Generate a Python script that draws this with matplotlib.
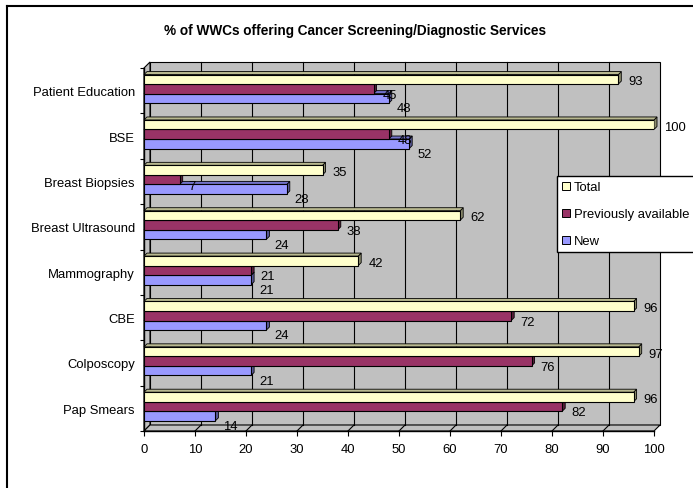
import matplotlib
matplotlib.use('Agg')
import matplotlib.pyplot as plt
import numpy as np
from matplotlib.patches import Polygon
from matplotlib.lines import Line2D
from matplotlib.transforms import IdentityTransform

# ---------------- data ----------------
categories = ["Pap Smears", "Colposcopy", "CBE", "Mammography",
              "Breast Ultrasound", "Breast Biopsies", "BSE", "Patient Education"]
total = [96, 97, 96, 42, 62, 35, 100, 93]
previously_available = [82, 76, 72, 21, 38, 7, 48, 45]
new = [14, 21, 24, 21, 24, 28, 52, 48]
series_names = ["Total", "Previously available", "New"]
x_ticks = [0, 10, 20, 30, 40, 50, 60, 70, 80, 90, 100]
title = "% of WWCs offering Cancer Screening/Diagnostic Services"

# ---------------- style ----------------
plt.rcParams['font.family'] = ['Liberation Sans Narrow', 'Liberation Sans', 'DejaVu Sans']
face_colors = ["#FFFFCC", "#993366", "#9999FF"]
side_colors = ["#8C8C6E", "#5A1E3C", "#5A5A99"]
top_colors = ["#B8B88F", "#72284E", "#7272C8"]
wall_color = "#C0C0C0"
FS = 9.4

W, H = 693, 489
fig = plt.figure(figsize=(W / 100, H / 100), dpi=100)
fig.patch.set_facecolor('white')

ax = fig.add_axes([144 / W, 1 - 432 / H, 510 / W, 363 / H])
ax.set_xlim(0, 100)
ax.set_ylim(-0.5, len(categories) - 0.5)
ax.patch.set_visible(False)
for s in ['top', 'right']:
    ax.spines[s].set_visible(False)
for s in ['left', 'bottom']:
    ax.spines[s].set_color('black')
    ax.spines[s].set_linewidth(1.0)

T = ax.transData
ID = IdentityTransform()
D = 6  # wall depth in pixels
x0, y0 = T.transform((0, -0.5))
x1, y1 = T.transform((100, len(categories) - 0.5))

def poly(pts, fc, ec='black', lw=0.8, z=1):
    p = Polygon(pts, closed=True, facecolor=fc, edgecolor=ec, linewidth=lw,
                transform=ID, zorder=z, clip_on=False, joinstyle='miter')
    ax.add_patch(p)

def line(xs, ys, z=1, lw=0.8):
    ax.add_line(Line2D(xs, ys, color='black', linewidth=lw, transform=ID,
                       zorder=z, clip_on=False))

# back wall
poly([(x0 + D, y0 + D), (x1 + D, y0 + D), (x1 + D, y1 + D), (x0 + D, y1 + D)], wall_color, z=0.5)
# left wall
poly([(x0, y0), (x0 + D, y0 + D), (x0 + D, y1 + D), (x0, y1)], wall_color, z=0.55)
# floor
poly([(x0, y0), (x1, y0), (x1 + D, y0 + D), (x0 + D, y0 + D)], wall_color, z=0.55)
# gridlines on wall and floor
for t in x_ticks[1:-1]:
    xt, _ = T.transform((t, 0))
    line([xt + D, xt + D], [y0 + D, y1 + D], z=0.6)
    line([xt, xt + D], [y0, y0 + D], z=0.6)

# ---------------- bars ----------------
bar_h = 0.21
offsets = [bar_h, 0.0, -bar_h]
shift = 0.04
values = [total, previously_available, new]
label_dx = [10, 9, 8]
label_dy = [2, 6, 10]
dd = 3
ypos = np.arange(len(categories))
for si in [2, 1, 0]:
    z = 3 + (2 - si)
    bars = ax.barh(ypos + shift + offsets[si], values[si], height=bar_h,
                   color=face_colors[si], edgecolor='black', linewidth=0.8,
                   zorder=z)
    for rect, v in zip(bars, values[si]):
        (bx0, by0) = T.transform((rect.get_x(), rect.get_y()))
        (bx1, by1) = T.transform((rect.get_x() + rect.get_width(),
                                  rect.get_y() + rect.get_height()))
        poly([(bx1, by0), (bx1 + dd, by0 + dd), (bx1 + dd, by1 + dd), (bx1, by1)],
             side_colors[si], lw=0.6, z=z - 0.1)
        poly([(bx0, by1), (bx1, by1), (bx1 + dd, by1 + dd), (bx0 + dd, by1 + dd)],
             top_colors[si], lw=0.6, z=z - 0.1)
        ax.annotate(str(v), xy=(rect.get_x() + rect.get_width(),
                                rect.get_y() + rect.get_height() / 2),
                    xytext=(label_dx[si], -label_dy[si]), textcoords='offset pixels',
                    ha='left', va='center', fontsize=FS, zorder=10,
                    annotation_clip=False)

# ---------------- axes ticks ----------------
ax.set_xticks(x_ticks)
ax.set_xticklabels([str(t) for t in x_ticks])
ax.tick_params(axis='x', direction='out', length=3.6, width=0.8, pad=5.0,
               labelsize=FS)
ax.set_yticks(ypos)
ax.set_yticklabels(categories)
ax.set_yticks(np.arange(-0.5, len(categories), 1), minor=True)
ax.tick_params(axis='y', which='major', length=0, pad=6.5, labelsize=FS)
ax.tick_params(axis='y', which='minor', direction='out', length=3, width=0.8)

# ---------------- legend ----------------
handles = [Line2D([], [], marker='s', linestyle='none', markerfacecolor=c,
                  markeredgecolor='black', markeredgewidth=0.7, markersize=5.5)
           for c in face_colors]
leg = fig.legend(handles, series_names, loc='upper left',
                 bbox_to_anchor=(557 / W, 1 - 177 / H), frameon=True,
                 fancybox=False, edgecolor='black', framealpha=1,
                 fontsize=FS, handlelength=0.6, handletextpad=0.3,
                 labelspacing=1.15, borderpad=0.38, borderaxespad=0)
leg.get_frame().set_linewidth(1.0)

# ---------------- title & border ----------------
fig.text(355 / W, 1 - 31 / H, title, ha='center', va='center',
         fontsize=9.8, fontweight='bold')
fig.add_artist(Line2D([7 / W, 1.0], [1 - 7 / H, 1 - 7 / H], transform=fig.transFigure,
                      color='black', linewidth=1.5))
fig.add_artist(Line2D([7 / W, 7 / W], [1 - 7 / H, 0.0], transform=fig.transFigure,
                      color='black', linewidth=1.5))

fig.savefig('out.png', dpi=100)
